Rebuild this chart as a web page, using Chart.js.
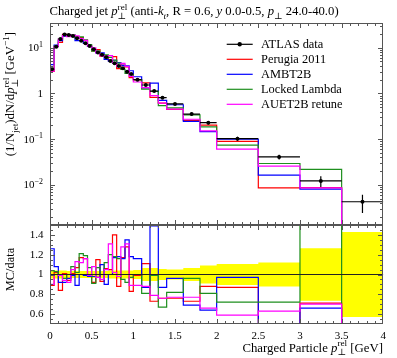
<!DOCTYPE html>
<html><head><meta charset="utf-8">
<script src="https://cdn.jsdelivr.net/npm/chart.js@4.4.0/dist/chart.umd.min.js"></script>
<style>
html,body{margin:0;padding:0;background:#fff;overflow:hidden}
#wrap{position:relative;width:397px;height:358px}
canvas{position:absolute;left:0;top:0}
</style></head><body>
<div id="wrap"><canvas id="cTop" width="397" height="358"></canvas><canvas id="cRatio" width="397" height="358"></canvas></div>
<script>
// ---------------- data ----------------
const binEdges = [0,0.05,0.1,0.15,0.2,0.25,0.3,0.35,0.4,0.45,0.5,0.55,0.6,0.65,0.7,0.75,0.8,0.85,0.9,0.95,1.0,1.1,1.2,1.3,1.4,1.6,1.8,2.0,2.5,3.0,3.5,4.0];
const atlasData = [3.4,10.5,15.5,19.5,19.0,18.0,16.0,14.2,12.5,10.9,9.2,7.9,7.0,6.2,5.1,4.55,3.98,3.55,2.99,2.66,2.0,1.53,1.13,0.81,0.59,0.355,0.23,0.103,0.041,0.0123,0.0043];
const atlasRelErr = [0.04,0.04,0.04,0.04,0.035,0.035,0.035,0.035,0.035,0.035,0.035,0.035,0.035,0.035,0.04,0.04,0.04,0.04,0.04,0.04,0.045,0.065,0.065,0.055,0.05,0.065,0.09,0.105,0.12,0.265,0.43];
const ratioPerugia2011 = [0.89,1.02,0.84,1.01,0.94,1.01,1.07,1.17,1.16,1.00,0.92,1.15,0.93,1.06,1.05,1.40,0.88,1.17,1.28,0.83,0.99,1.11,0.73,0.76,0.76,0.73,0.88,0.87,0.21,0.71,0.05];
const ratioAMBT2B = [1.26,1.08,0.92,0.92,0.96,0.99,0.89,1.00,0.99,0.98,0.98,0.97,1.10,0.90,1.00,1.17,1.18,1.16,1.35,1.18,1.16,0.87,1.49,0.87,0.96,0.69,0.64,0.97,0.40,0.66,0.05];
const ratioLockedLambda = [1.04,1.03,1.00,0.96,1.00,1.08,1.02,1.21,1.19,1.07,0.91,1.07,1.00,1.12,1.20,1.18,1.16,0.95,0.92,0.97,1.00,0.81,0.99,0.67,0.82,0.96,0.81,0.72,0.72,1.78,0.05];
const ratioAUET2B = [0.90,1.00,0.99,0.94,0.92,1.05,1.13,1.12,1.16,0.99,1.08,0.97,0.95,1.05,1.31,1.02,0.98,1.28,1.31,0.89,0.89,0.88,0.79,0.76,0.77,0.77,0.66,0.59,0.63,0.70,0.05];
const seriesLabels = ['ATLAS data','Perugia 2011','AMBT2B','Locked Lambda','AUET2B retune'];
const xTickValues = [0,0.5,1,1.5,2,2.5,3,3.5,4];
const xTickLabels = ['0','0.5','1','1.5','2','2.5','3','3.5','4'];
const logTickValues = [10,1,0.1,0.01];
const logTickLabels = ['10^1','1','10^\u22121','10^\u22122'];
const ratioTickValues = [1.4,1.2,1,0.8,0.6];
const ratioTickLabels = ['1.4','1.2','1','0.8','0.6'];

// ---------------- layout ----------------
const W = 397, H = 358;
const PL = 50, PR = 383.3, PT = 23, PM = 225, PB = 324;
const Y_MAX = 34.65, Y_MIN = 0.001336;
const FRAME = '#555';
const FONT = '"Liberation Serif","DejaVu Serif",serif';
function fnt(size, it){ return (it?'italic ':'') + size + 'px ' + FONT; }

const mcSeries = [
  {label: seriesLabels[1], ratio: ratioPerugia2011, color: '#ff0000', order: 4},
  {label: seriesLabels[2], ratio: ratioAMBT2B, color: '#0000ff', order: 3},
  {label: seriesLabels[3], ratio: ratioLockedLambda, color: '#1e8f1e', order: 2},
  {label: seriesLabels[4], ratio: ratioAUET2B, color: '#ff00ff', order: 1}
];
function stepPoints(vals){
  const pts = vals.map((v,i)=>({x: binEdges[i], y: v}));
  pts.push({x: binEdges[binEdges.length-1], y: vals[vals.length-1]});
  return pts;
}

function layoutRich(ctx, segs, size){
  let cx = 0, lastStart = 0; const items = [];
  for (const s of segs){
    const fs = s.pos ? size*0.72 : size;
    ctx.font = fnt(fs, s.it);
    const w = ctx.measureText(s.t).width;
    const sx = s.stack ? lastStart : cx;
    const dy = s.pos==='sub' ? size*0.3 : (s.pos==='sup' ? -size*0.42 : 0);
    items.push({t: s.t, font: ctx.font, x: sx, dy});
    const end = sx + w;
    cx = s.stack ? Math.max(cx, end) : end;
    lastStart = sx;
  }
  return {items, width: cx};
}
function drawRich(ctx, segs, x, y, size, align){
  const L = layoutRich(ctx, segs, size);
  let ox = x;
  if (align==='right') ox = x - L.width; else if (align==='center') ox = x - L.width/2;
  ctx.textBaseline = 'alphabetic'; ctx.textAlign = 'left';
  for (const it of L.items){ ctx.font = it.font; ctx.fillText(it.t, ox+it.x, y+it.dy); }
}
const pSegs = [{t:'p', it:true},{t:'\u22a5', pos:'sub'},{t:'rel', pos:'sup', stack:true}];

function drawFrameTicks(ctx, a, xt, yt){
  ctx.save();
  ctx.strokeStyle = FRAME; ctx.lineWidth = 1;
  const l = Math.round(a.left)+0.5, r = Math.round(a.right)-0.5, t = Math.round(a.top)+0.5, b = Math.round(a.bottom)-0.5;
  ctx.beginPath();
  for (const k of xt){
    const p = Math.round(k.p)+0.5, len = k.major?4.5:2.5;
    ctx.moveTo(p, b); ctx.lineTo(p, b-len);
    ctx.moveTo(p, t); ctx.lineTo(p, t+len);
  }
  for (const k of yt){
    const p = Math.round(k.p)+0.5, len = k.major?4.5:2.5;
    ctx.moveTo(l, p); ctx.lineTo(l+len, p);
    ctx.moveTo(r, p); ctx.lineTo(r-len, p);
  }
  ctx.stroke();
  ctx.strokeRect(l, t, r-l, b-t);
  ctx.restore();
}
function xTickList(scale){
  const arr = [];
  for (let k=1;k<40;k++) arr.push({p: scale.getPixelForValue(k*0.1), major: k%5===0});
  return arr;
}

// ---------------- top chart ----------------
const topPlugin = {
  id: 'topDeco',
  afterDatasetsDraw(chart){
    const ctx = chart.ctx, xs = chart.scales.x, ys = chart.scales.y, a = chart.chartArea;
    ctx.save();
    ctx.beginPath(); ctx.rect(a.left, a.top, a.right-a.left, a.bottom-a.top); ctx.clip();
    ctx.strokeStyle = '#000'; ctx.fillStyle = '#000'; ctx.lineWidth = 1.2;
    for (let i=0;i<atlasData.length;i++){
      const v = atlasData[i], e = atlasRelErr[i]*v;
      const xl = xs.getPixelForValue(binEdges[i]), xr = xs.getPixelForValue(binEdges[i+1]);
      const xc = xs.getPixelForValue((binEdges[i]+binEdges[i+1])/2);
      const py = ys.getPixelForValue(v);
      ctx.beginPath();
      ctx.moveTo(xl, py); ctx.lineTo(xr, py);
      ctx.moveTo(xc, ys.getPixelForValue(v+e)); ctx.lineTo(xc, ys.getPixelForValue(Math.max(v-e, 1e-6)));
      ctx.stroke();
      ctx.beginPath(); ctx.arc(xc, py, 2, 0, Math.PI*2); ctx.fill();
    }
    ctx.restore();
  },
  afterDraw(chart){
    const ctx = chart.ctx, xs = chart.scales.x, ys = chart.scales.y, a = chart.chartArea;
    const yt = [];
    for (let e=-3;e<=1;e++) for (let m=1;m<=9;m++){
      const v = m*Math.pow(10,e);
      if (v>Y_MIN && v<Y_MAX) yt.push({p: ys.getPixelForValue(v), major: m===1});
    }
    drawFrameTicks(ctx, a, xTickList(xs), yt);
    ctx.save();
    ctx.fillStyle = '#000';
    logTickValues.forEach((v,i)=>{
      const py = ys.getPixelForValue(v);
      const parts = logTickLabels[i].split('^');
      const segs = [{t: parts[0]}];
      if (parts[1]) segs.push({t: parts[1], pos:'sup'});
      drawRich(ctx, segs, 43, py+3.5, 11, 'right');
    });
    ctx.save();
    ctx.translate(14, 32);
    ctx.rotate(-Math.PI/2);
    drawRich(ctx, [{t:'(1/N'},{t:'jet', pos:'sub'},{t:')dN/d'}].concat(pSegs, [{t:' [GeV'},{t:'\u22121', pos:'sup'},{t:']'}]), 0, 0, 12.8, 'right');
    ctx.restore();
    drawRich(ctx, [{t:'Charged jet '}].concat(pSegs, [{t:' (anti-'},{t:'k', it:true},{t:'t', it:true, pos:'sub'},{t:', R = 0.6, '},{t:'y', it:true},{t:' 0.0-0.5, '},{t:'p', it:true},{t:'\u22a5', pos:'sub'},{t:' 24.0-40.0)'}]), 49.5, 15, 12.7, 'left');
    const lx0 = 226.7, lx1 = 252.7, tx = 261, ly0 = 44.3, ldy = 15;
    const entries = [{label: seriesLabels[0], color:'#000', dot:true}].concat(mcSeries.map(s=>({label:s.label, color:s.color})));
    entries.forEach((en,i)=>{
      const y = ly0 + i*ldy;
      ctx.strokeStyle = en.color; ctx.lineWidth = 1.2;
      ctx.beginPath(); ctx.moveTo(lx0, y); ctx.lineTo(lx1, y); ctx.stroke();
      if (en.dot){ ctx.fillStyle = '#000'; ctx.beginPath(); ctx.arc((lx0+lx1)/2, y, 2.2, 0, Math.PI*2); ctx.fill(); }
      ctx.fillStyle = '#000';
      ctx.font = fnt(12.4); ctx.textAlign = 'left'; ctx.textBaseline = 'alphabetic';
      ctx.fillText(en.label, tx, y+4);
    });
    ctx.restore();
  }
};

new Chart(document.getElementById('cTop'), {
  type: 'line',
  data: {
    datasets: mcSeries.map(s=>({
      label: s.label,
      data: stepPoints(s.ratio.map((r,i)=>r*atlasData[i])),
      borderColor: s.color, borderWidth: 1.2, stepped: 'before', pointRadius: 0, fill: false, order: s.order
    }))
  },
  options: {
    responsive: false, animation: false, devicePixelRatio: 1,
    layout: {padding: {left: PL, right: W-PR, top: PT, bottom: H-PM}},
    plugins: {legend: {display: false}, tooltip: {enabled: false}},
    scales: {
      x: {type: 'linear', min: 0, max: 4, display: false},
      y: {type: 'logarithmic', min: Y_MIN, max: Y_MAX, display: false}
    }
  },
  plugins: [topPlugin]
});

// ---------------- ratio chart ----------------
const ratioPlugin = {
  id: 'ratioDeco',
  afterDraw(chart){
    const ctx = chart.ctx, xs = chart.scales.x, ys = chart.scales.y, a = chart.chartArea;
    const yt = [];
    for (let k=55;k<150;k+=5) yt.push({p: ys.getPixelForValue(k/100), major: k%20===0});
    drawFrameTicks(ctx, a, xTickList(xs), yt);
    ctx.save();
    ctx.fillStyle = '#000';
    ctx.font = fnt(11);
    ctx.textBaseline = 'middle';
    ctx.textAlign = 'right';
    ratioTickValues.forEach((v,i)=>{ ctx.fillText(ratioTickLabels[i], 43.5, ys.getPixelForValue(v)); });
    ctx.textAlign = 'center';
    xTickValues.forEach((v,i)=>{ ctx.fillText(xTickLabels[i], xs.getPixelForValue(v), 336.5); });
    drawRich(ctx, [{t:'Charged Particle '}].concat(pSegs, [{t:' [GeV]'}]), 383, 351.5, 12.8, 'right');
    ctx.save();
    ctx.translate(14, 269.5);
    ctx.rotate(-Math.PI/2);
    drawRich(ctx, [{t:'MC/data'}], 0, 0, 12.4, 'center');
    ctx.restore();
    ctx.restore();
  }
};

const ratioDatasets = [
  {label:'band-lo', data: stepPoints(atlasRelErr.map(e=>1-e)), borderWidth: 0, pointRadius: 0, stepped: 'before', fill: false, order: 20},
  {label:'band-hi', data: stepPoints(atlasRelErr.map(e=>1+e)), borderWidth: 0, pointRadius: 0, stepped: 'before', fill: '-1', backgroundColor: '#ffff00', order: 19}
].concat(mcSeries.map(s=>({
  label: s.label, data: stepPoints(s.ratio), borderColor: s.color, borderWidth: 1.2, stepped: 'before', pointRadius: 0, fill: false, order: s.order+1
}))).concat([
  {label:'unity', data: [{x:0,y:1},{x:4,y:1}], borderColor: '#222', borderWidth: 1, pointRadius: 0, fill: false, order: 0}
]);

new Chart(document.getElementById('cRatio'), {
  type: 'line',
  data: {datasets: ratioDatasets},
  options: {
    responsive: false, animation: false, devicePixelRatio: 1,
    layout: {padding: {left: PL, right: W-PR, top: PM, bottom: H-PB}},
    plugins: {legend: {display: false}, tooltip: {enabled: false}},
    scales: {
      x: {type: 'linear', min: 0, max: 4, display: false},
      y: {type: 'linear', min: 0.5, max: 1.5, display: false}
    }
  },
  plugins: [ratioPlugin]
});
</script>
</body></html>
